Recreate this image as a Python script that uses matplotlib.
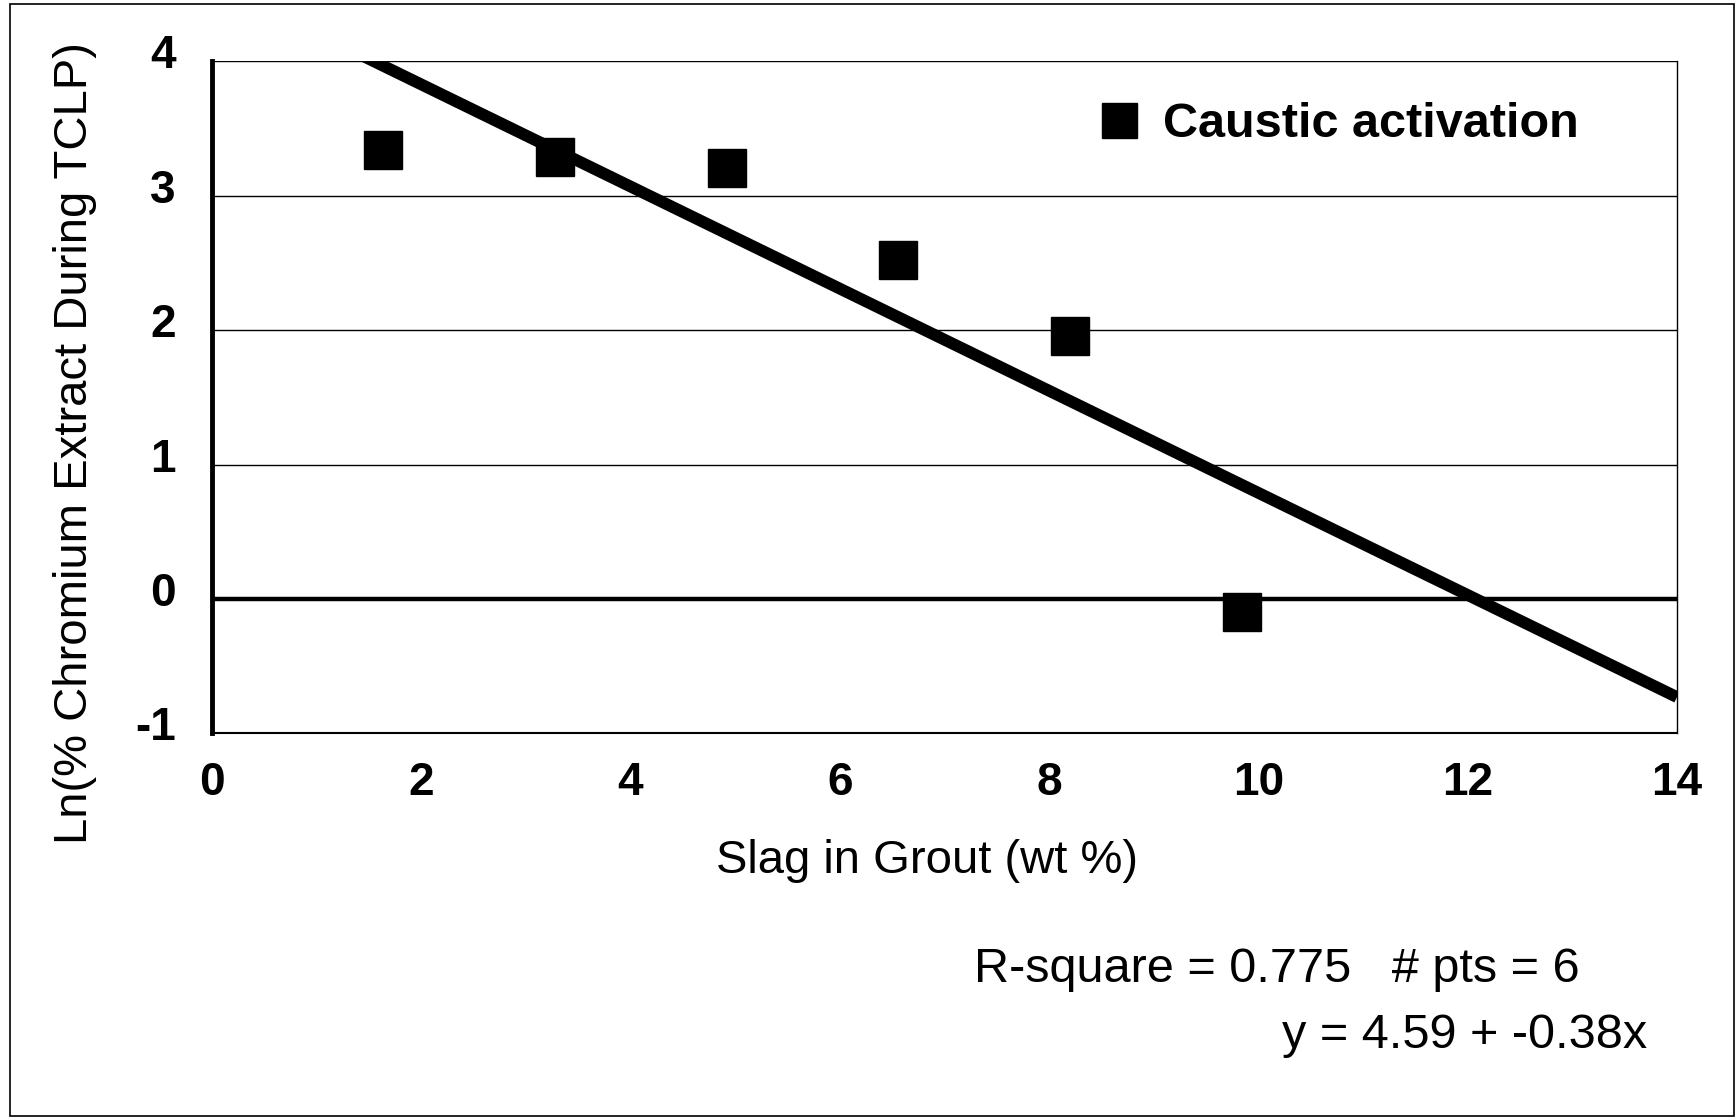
import matplotlib.pyplot as plt
from matplotlib.patches import Rectangle
from matplotlib.transforms import ScaledTranslation

# data
slag_pct = [1.64, 3.28, 4.92, 6.56, 8.2, 9.84]
ln_cr = [3.34, 3.29, 3.21, 2.52, 1.96, -0.10]
fit_intercept = 4.59
fit_slope = -0.38
fit_range = [1.45, 14.0]
x_ticks = [0, 2, 4, 6, 8, 10, 12, 14]
y_ticks = [-1, 0, 1, 2, 3, 4]

plt.rcParams['font.family'] = ['Liberation Sans', 'DejaVu Sans']

fig = plt.figure(figsize=(17.36, 11.18), dpi=100)
ax = fig.add_axes([0.122, 0.344, 0.844, 0.601])

# grid lines at integer y values
for yv in y_ticks[2:]:
    ax.axhline(yv, color='black', lw=1.0, zorder=1)
ax.axhline(0, color='black', lw=3.2, zorder=2)

fit_y = [fit_intercept + fit_slope * x for x in fit_range]
ax.plot(fit_range, fit_y, color='black', lw=8.5, solid_capstyle='butt', zorder=3)
ax.plot(slag_pct, ln_cr, 's', color='black', markersize=28, label='Caustic activation', zorder=4)

ax.set_xlim(0, 14)
ax.set_ylim(-1, 4)
ax.set_xticks(x_ticks)
ax.set_xticklabels([str(v) for v in x_ticks])
ax.set_yticks(y_ticks)
ax.set_yticklabels([str(v) for v in y_ticks])
ax.tick_params(length=0, labelsize=33)
ax.tick_params(axis='y', pad=26)
ax.tick_params(axis='x', pad=20)
for lab in ax.get_xticklabels() + ax.get_yticklabels():
    lab.set_fontweight('bold')
# y labels sit a little above their grid lines in the original
shift = ScaledTranslation(0, 0.1, fig.dpi_scale_trans)
for lab in ax.get_yticklabels():
    lab.set_transform(lab.get_transform() + shift)

ax.spines['top'].set_visible(False)
ax.spines['left'].set_linewidth(3.5)
ax.spines['bottom'].set_linewidth(1.5)
ax.spines['right'].set_linewidth(1.0)

fig.text(0.534, 0.230, 'Slag in Grout (wt %)', fontsize=34, ha='center', va='center')
fig.text(0.043, 0.604, 'Ln(% Chromium Extract During TCLP)', fontsize=34,
         ha='center', va='center', rotation=90)

leg = ax.legend(loc='center left', bbox_to_anchor=(0.618, 0.889), bbox_transform=fig.transFigure,
                frameon=False, prop={'weight': 'bold', 'size': 35}, handlelength=0.9,
                handletextpad=0.45, borderpad=0, markerscale=0.9)

stat_font = ['Liberation Sans Narrow', 'Liberation Sans']
fig.text(0.561, 0.133, 'R-square = 0.775   # pts = 6', fontsize=35, family=stat_font,
         ha='left', va='center')
fig.text(0.949, 0.074, 'y = 4.59 + -0.38x', fontsize=35, family=stat_font,
         ha='right', va='center')

fig.patches.append(Rectangle((0.006, 0.002), 0.993, 0.994, transform=fig.transFigure,
                             fill=False, edgecolor='black', lw=1.2))

plt.savefig('out.png', dpi=100)
